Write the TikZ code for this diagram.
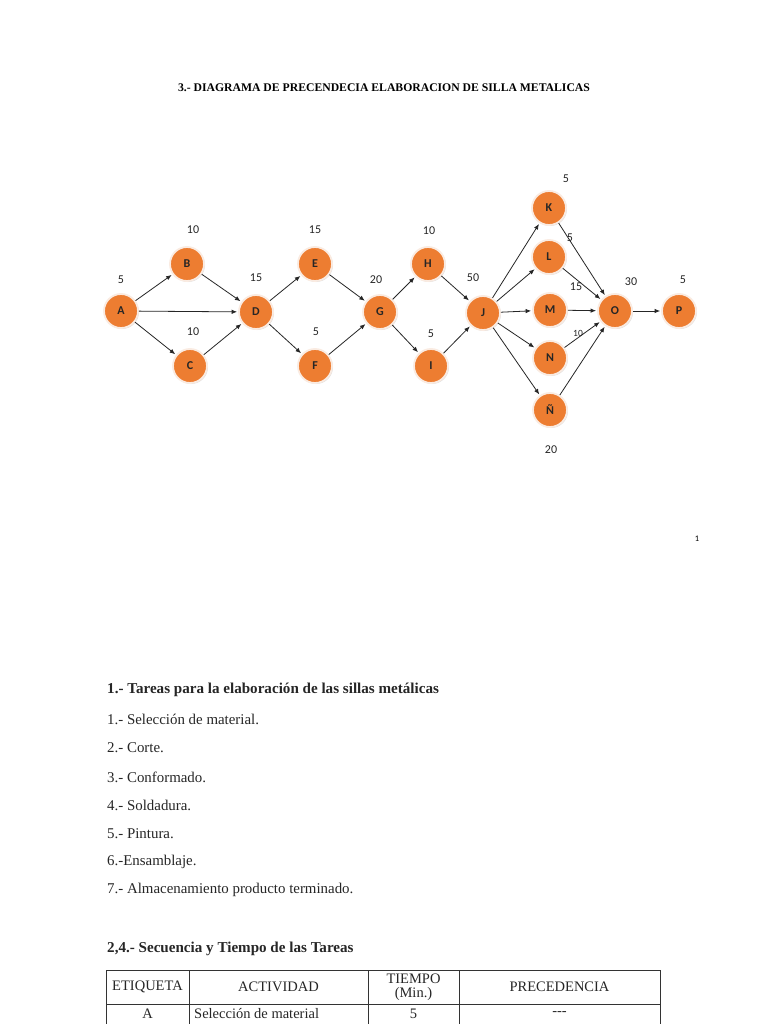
\documentclass[tikz,border=0pt]{standalone}
\usepackage{fontspec}
\setmainfont{Liberation Serif}
\newfontfamily\lblfont{Carlito}
\usetikzlibrary{arrows.meta,shadows}
\definecolor{nodeorange}{RGB}{237,125,49}
\definecolor{ringcol}{RGB}{250,235,225}
\begin{document}
\begin{tikzpicture}[x=1pt,y=-1pt,
  act/.style={circle,fill=nodeorange,draw=ringcol,line width=1.8pt,minimum size=34pt,inner sep=0pt,
    font=\lblfont\bfseries\fontsize{12}{14}\selectfont,text=black!85,
    drop shadow={opacity=0.25,shadow xshift=1pt,shadow yshift=-1pt}},
  tm/.style={font=\lblfont\fontsize{12}{14}\selectfont,text=black!85,inner sep=0pt},
  arr/.style={-{Latex[length=5.5pt,width=4.5pt]},line width=0.8pt,black!85,shorten >=1pt},
  item/.style={anchor=west,inner sep=0pt,font=\fontsize{14.9}{17}\selectfont,text=black!85},
  cell/.style={inner sep=0pt,font=\fontsize{14.5}{15}\selectfont,text=black!85,align=center}
]
\useasboundingbox (0,0) rectangle (768,1024);
\clip (0,0) rectangle (768,1024);
\fill[white] (0,0) rectangle (768,1024);

% title
\node[inner sep=0pt,font=\bfseries\fontsize{11.7}{13}\selectfont] (title) at (384,88) {3.- DIAGRAMA DE PRECENDECIA ELABORACION DE SILLA METALICAS};

% nodes
\node[act] (A) at (121,311) {A};
\node[act] (B) at (187,264) {B};
\node[act] (C) at (190,366) {C};
\node[act] (D) at (256,312) {D};
\node[act] (E) at (315,264) {E};
\node[act] (F) at (315,366) {F};
\node[act] (G) at (380,312) {G};
\node[act] (H) at (428,264) {H};
\node[act] (I) at (431,366) {I};
\node[act] (J) at (483,313) {J};
\node[act] (K) at (549,208) {K};
\node[act] (L) at (549,257) {L};
\node[act] (M) at (550,310) {M};
\node[act] (N) at (550,358) {N};
\node[act] (NN) at (550,410) {Ñ};
\node[act] (O) at (615,311) {O};
\node[act] (P) at (679,311) {P};

% times
\node[tm] (tA) at (121,280) {5};
\node[tm] (tB) at (193,230) {10};
\node[tm] (tC) at (193,332) {10};
\node[tm] (tD) at (256,278) {15};
\node[tm] (tE) at (315,230) {15};
\node[tm] (tF) at (316,332) {5};
\node[tm] (tG) at (376,280) {20};
\node[tm] (tH) at (429,231) {10};
\node[tm] (tI) at (431,334) {5};
\node[tm] (tJ) at (473,278) {50};
\node[tm] (tK) at (566,179) {5};
\node[tm] (tL) at (570,238) {5};
\node[tm] (tM) at (576,287) {15};
\node[tm,font=\lblfont\fontsize{9.5}{11}\selectfont] (tN) at (578,333) {10};
\node[tm] (tNN) at (551,450) {20};
\node[tm] (tO) at (631,282) {30};
\node[tm] (tP) at (683,280) {5};

% arrows
\draw[arr] (A) -- (B);
\draw[arr] (A) -- (D);
\draw[arr] (A) -- (C);
\draw[arr] (B) -- (D);
\draw[arr] (C) -- (D);
\draw[arr] (D) -- (E);
\draw[arr] (D) -- (F);
\draw[arr] (E) -- (G);
\draw[arr] (F) -- (G);
\draw[arr] (G) -- (H);
\draw[arr] (G) -- (I);
\draw[arr] (H) -- (J);
\draw[arr] (I) -- (J);
\draw[arr] (J) -- (K);
\draw[arr] (J) -- (L);
\draw[arr] (J) -- (M);
\draw[arr] (J) -- (N);
\draw[arr] (J) -- (NN);
\draw[arr] (K) -- (O);
\draw[arr] (L) -- (O);
\draw[arr] (M) -- (O);
\draw[arr] (N) -- (O);
\draw[arr] (NN) -- (O);
\draw[arr] (O) -- (P);

% page number
\node[inner sep=0pt,font=\lblfont\fontsize{8.5}{10}\selectfont] (pg) at (697,539) {1};

% list
\node[item,font=\bfseries\fontsize{15.1}{17}\selectfont] (h1) at (107,690) {1.- Tareas para la elaboración de las sillas metálicas};
\node[item] (i1) at (107,719) {1.- Selección de material.};
\node[item] (i2) at (107,748) {2.- Corte.};
\node[item] (i3) at (107,777) {3.- Conformado.};
\node[item] (i4) at (107,805) {4.- Soldadura.};
\node[item] (i5) at (107,834) {5.- Pintura.};
\node[item] (i6) at (107,862) {6.-Ensamblaje.};
\node[item] (i7) at (107,890) {7.- Almacenamiento producto terminado.};

\node[item,font=\bfseries\fontsize{15.1}{17}\selectfont] (h2) at (107,949) {2,4.- Secuencia y Tiempo de las Tareas};

% table
\draw[line width=0.8pt,black!80] (106,970) -- (660,970);
\draw[line width=0.8pt,black!80] (106,1004) -- (660,1004);
\foreach \xx in {106,189,368,459,660} {
  \draw[line width=0.8pt,black!80] (\xx,970) -- (\xx,1030);
}
\node[cell] (c1) at (147.5,987) {ETIQUETA};
\node[cell] (c2) at (278.5,987) {ACTIVIDAD};
\node[cell,font=\fontsize{14.5}{14}\selectfont] (c3) at (413.5,987) {TIEMPO\\(Min.)};
\node[cell] (c4) at (559.5,987) {PRECEDENCIA};
\node[cell] (r1) at (147.5,1014) {A};
\node[cell,anchor=west] (r2) at (194,1014) {Selección de material};
\node[cell] (r3) at (413.5,1014) {5};
\node[cell] (r4) at (559.5,1014) {-{}-{}-};
\end{tikzpicture}
\end{document}
